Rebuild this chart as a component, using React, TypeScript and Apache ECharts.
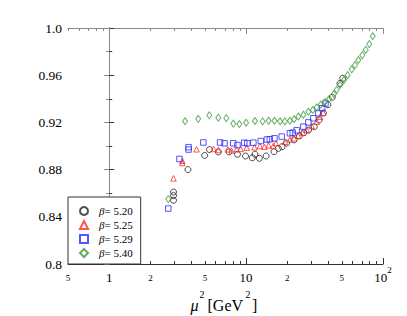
import React, { useEffect, useRef } from 'react';
import * as echarts from 'echarts';

const SERIF = "'Liberation Serif', 'Times New Roman', Times, serif";

const betaNames = ['5.20', '5.25', '5.29', '5.40'];

const beta520: [number, number][] = [
  [2.95, 0.861], [2.95, 0.858], [2.95, 0.854], [3.76, 0.880], [4.98, 0.892],
  [5.40, 0.897], [6.27, 0.895], [7.50, 0.895], [8.65, 0.893], [9.90, 0.8915],
  [11.1, 0.890], [11.6, 0.893], [12.5, 0.8896], [14.0, 0.8915], [16.0, 0.8952],
  [17.2, 0.898], [18.3, 0.8994], [19.8, 0.9025], [22.4, 0.9052], [24.5, 0.9085],
  [26.4, 0.9112], [28.6, 0.9135], [31.5, 0.9164], [34.1, 0.922], [36.7, 0.928],
  [39.6, 0.935], [42.6, 0.9413], [48.5, 0.953], [50.8, 0.9574],
];

const beta525: [number, number][] = [
  [2.95, 0.8726], [3.42, 0.8875], [3.42, 0.8856], [4.34, 0.8972], [5.78, 0.8975],
  [6.27, 0.8966], [7.34, 0.8972], [7.82, 0.8962], [8.54, 0.8972], [9.13, 0.8975],
  [10.1, 0.8986], [11.5, 0.8989], [12.6, 0.900], [13.6, 0.8994], [14.6, 0.9006],
  [15.8, 0.900], [16.5, 0.9023], [19.2, 0.9036], [20.9, 0.9055], [22.4, 0.9065],
  [24.0, 0.9087], [25.9, 0.9113], [27.7, 0.9136], [30.1, 0.9172], [32.8, 0.9206],
  [34.7, 0.9248], [36.6, 0.9282],
];

const beta529: [number, number][] = [
  [2.70, 0.847], [3.26, 0.889], [3.80, 0.899], [3.80, 0.897], [4.87, 0.903],
  [6.45, 0.903], [6.95, 0.9023], [8.06, 0.9023], [8.65, 0.9008], [9.70, 0.9028],
  [10.2, 0.9023], [11.3, 0.9028], [12.8, 0.9042], [14.2, 0.9055], [14.9, 0.9057],
  [16.1, 0.9065], [18.2, 0.908], [20.9, 0.9108], [21.9, 0.9113], [23.4, 0.9133],
  [26.2, 0.9164], [28.5, 0.920], [31.0, 0.9235], [33.7, 0.9277], [36.0, 0.932],
  [38.0, 0.936],
];

const beta540: [number, number][] = [
  [2.70, 0.855], [3.58, 0.921], [4.47, 0.923], [5.39, 0.926], [6.27, 0.924],
  [7.17, 0.9236], [8.06, 0.919], [8.92, 0.9186], [10.0, 0.9197], [11.6, 0.9212],
  [13.2, 0.9208], [14.6, 0.9214], [16.1, 0.9214], [17.7, 0.921], [19.2, 0.9208],
  [20.9, 0.9214], [22.4, 0.9227], [24.1, 0.925], [26.2, 0.9265], [28.5, 0.929],
  [30.7, 0.9305], [32.8, 0.9328], [35.1, 0.935], [37.7, 0.9375], [40.5, 0.940],
  [43.8, 0.944], [45.9, 0.9475], [48.5, 0.9517], [51.9, 0.9559], [55.2, 0.960],
  [59.1, 0.965], [62.4, 0.9686], [66.0, 0.9729], [70.6, 0.977], [74.8, 0.9814],
  [79.4, 0.9864], [84.1, 0.993],
];

const xMin = 0.5;
const xMax = 100;
const xMajorTicks = [1, 10, 100];
const xMinorTicks = [0.5, 0.6, 0.7, 0.8, 0.9, 2, 3, 4, 5, 6, 7, 8, 9, 20, 30, 40, 50, 60, 70, 80, 90];
const xBigLabels = [1, 10, 100];
const xSmallLabels = [0.5, 2, 5, 20, 50];

const yMin = 0.8;
const yMax = 1.0;
const yInterval = 0.04;

const L = (v: number) => Math.log10(v);

export default function App() {
  const ref = useRef<HTMLDivElement>(null);
  useEffect(() => {
    if (!ref.current) return;
    const chart = echarts.init(ref.current, undefined, { renderer: 'svg' });
    const dark = '#333';
    const light = '#888';
    const grid = { left: 68, top: 28, right: 24, bottom: 52 };

    const logAxisCommon = {
      type: 'value' as const,
      min: L(xMin),
      max: L(xMax),
      splitLine: { show: false },
    };

    const bigFmt = (v: number) => {
      const e = Math.round(v);
      if (e === 0) return '{a|1}';
      if (e === 1) return '{a|10}';
      return '{a|10}{b|' + e + '}';
    };
    const smallFmt = (v: number) => {
      const val = Math.pow(10, v);
      const lead = Math.round(val / Math.pow(10, Math.floor(v + 1e-9)));
      return String(lead);
    };

    const mkSeries = (name: string, data: [number, number][], symbol: string, size: any, color: string) => ({
      type: 'scatter',
      name,
      xAxisIndex: 0,
      yAxisIndex: 0,
      data,
      symbol,
      symbolSize: size,
      itemStyle: { color: 'transparent', borderColor: color, borderWidth: 1 },
      emphasis: { disabled: true },
    });

    chart.setOption({
      animation: false,
      backgroundColor: '#fff',
      textStyle: { fontFamily: SERIF },
      grid,
      xAxis: [
        { type: 'log', logBase: 10, min: xMin, max: xMax, show: false },
        {
          ...logAxisCommon,
          position: 'bottom',
          axisLine: { show: true, lineStyle: { color: dark, width: 1 } },
          axisTick: { show: true, inside: true, length: 6, customValues: xMajorTicks.map(L), lineStyle: { color: dark } },
          axisLabel: {
            show: true,
            customValues: xBigLabels.map(L),
            formatter: bigFmt,
            verticalAlign: 'middle',
            margin: 13,
            color: '#000',
            fontFamily: SERIF,
            rich: {
              a: { fontSize: 13, fontFamily: SERIF, color: '#000' },
              b: { fontSize: 9, fontFamily: SERIF, color: '#000', padding: [0, 0, 14, 0] },
            },
          },
        },
        {
          ...logAxisCommon,
          position: 'bottom',
          axisLine: { show: false },
          axisTick: { show: true, inside: true, length: 3, customValues: xMinorTicks.map(L), lineStyle: { color: dark } },
          axisLabel: {
            show: true,
            customValues: xSmallLabels.map(L),
            formatter: smallFmt,
            verticalAlign: 'middle',
            margin: 14,
            fontSize: 9,
            fontFamily: SERIF,
            color: '#000',
          },
        },
        {
          ...logAxisCommon,
          position: 'top',
          axisLine: { show: true, lineStyle: { color: light, width: 1 } },
          axisTick: { show: true, inside: true, length: 6, customValues: xMajorTicks.map(L), lineStyle: { color: light } },
          axisLabel: { show: false },
        },
        {
          ...logAxisCommon,
          position: 'top',
          axisLine: { show: false },
          axisTick: { show: true, inside: true, length: 3, customValues: xMinorTicks.map(L), lineStyle: { color: light } },
          axisLabel: { show: false },
        },
      ],
      yAxis: [
        {
          type: 'value',
          position: 'left',
          min: yMin,
          max: yMax,
          interval: yInterval,
          splitLine: { show: false },
          axisLine: { show: true, lineStyle: { color: dark, width: 1 } },
          axisTick: { show: true, inside: true, length: 5, lineStyle: { color: dark } },
          minorTick: { show: true, splitNumber: 2, length: 3, lineStyle: { color: dark } },
          minorSplitLine: { show: false },
          axisLabel: {
            margin: 6,
            fontSize: 13.5,
            fontFamily: SERIF,
            color: '#000',
            formatter: (v: number) => {
              if (Math.abs(v - 1) < 1e-9) return '1.0';
              const r = Math.round(v * 100) / 100;
              return String(r);
            },
          },
        },
        {
          type: 'value',
          position: 'right',
          min: yMin,
          max: yMax,
          interval: yInterval,
          splitLine: { show: false },
          axisLine: { show: true, lineStyle: { color: light, width: 1 } },
          axisTick: { show: true, inside: true, length: 5, lineStyle: { color: light } },
          minorTick: { show: true, splitNumber: 2, length: 3, lineStyle: { color: light } },
          minorSplitLine: { show: false },
          axisLabel: { show: false },
        },
      ],
      legend: {
        orient: 'vertical',
        left: 68,
        top: 197,
        padding: [7, 8, 4, 11],
        itemGap: 0,
        itemWidth: 8,
        itemHeight: 8,
        backgroundColor: '#fff',
        borderColor: dark,
        borderWidth: 1,
        borderRadius: 0,
        data: betaNames,
        formatter: (n: string) => '{i|β}= ' + n,
        textStyle: {
          fontFamily: SERIF,
          fontSize: 11,
          lineHeight: 14,
          color: '#000',
          padding: [0, 0, 0, 6],
          rich: {
            i: { fontStyle: 'italic', fontFamily: SERIF, fontSize: 11, lineHeight: 14, color: '#000' },
          },
        },
        z: 10,
      },
      series: [
        mkSeries(betaNames[0], beta520, 'circle', 6, '#222'),
        mkSeries(betaNames[1], beta525, 'triangle', 5.5, '#ff2a2a'),
        mkSeries(betaNames[2], beta529, 'rect', 5.5, '#2a2aff'),
        mkSeries(betaNames[3], beta540, 'diamond', [5, 7], '#3a9a3a'),
      ],
      graphic: [
        { type: 'text', left: 190.5, top: 297, style: { text: 'μ', fontStyle: 'italic', fontSize: 16, fontFamily: SERIF, fill: '#000' } },
        { type: 'text', left: 199.5, top: 289, style: { text: '2', fontSize: 10, fontFamily: SERIF, fill: '#000' } },
        { type: 'text', left: 207.5, top: 297, style: { text: '[GeV', fontSize: 16, fontFamily: SERIF, fill: '#000' } },
        { type: 'text', left: 245.5, top: 289, style: { text: '2', fontSize: 10, fontFamily: SERIF, fill: '#000' } },
        { type: 'text', left: 252, top: 297, style: { text: ']', fontSize: 16, fontFamily: SERIF, fill: '#000' } },
      ],
    });
    return () => chart.dispose();
  }, []);
  return (
    <div
      ref={ref}
      style={{ position: 'absolute', left: 0, top: 0, width: 407, height: 316, background: '#fff' }}
    />
  );
}
